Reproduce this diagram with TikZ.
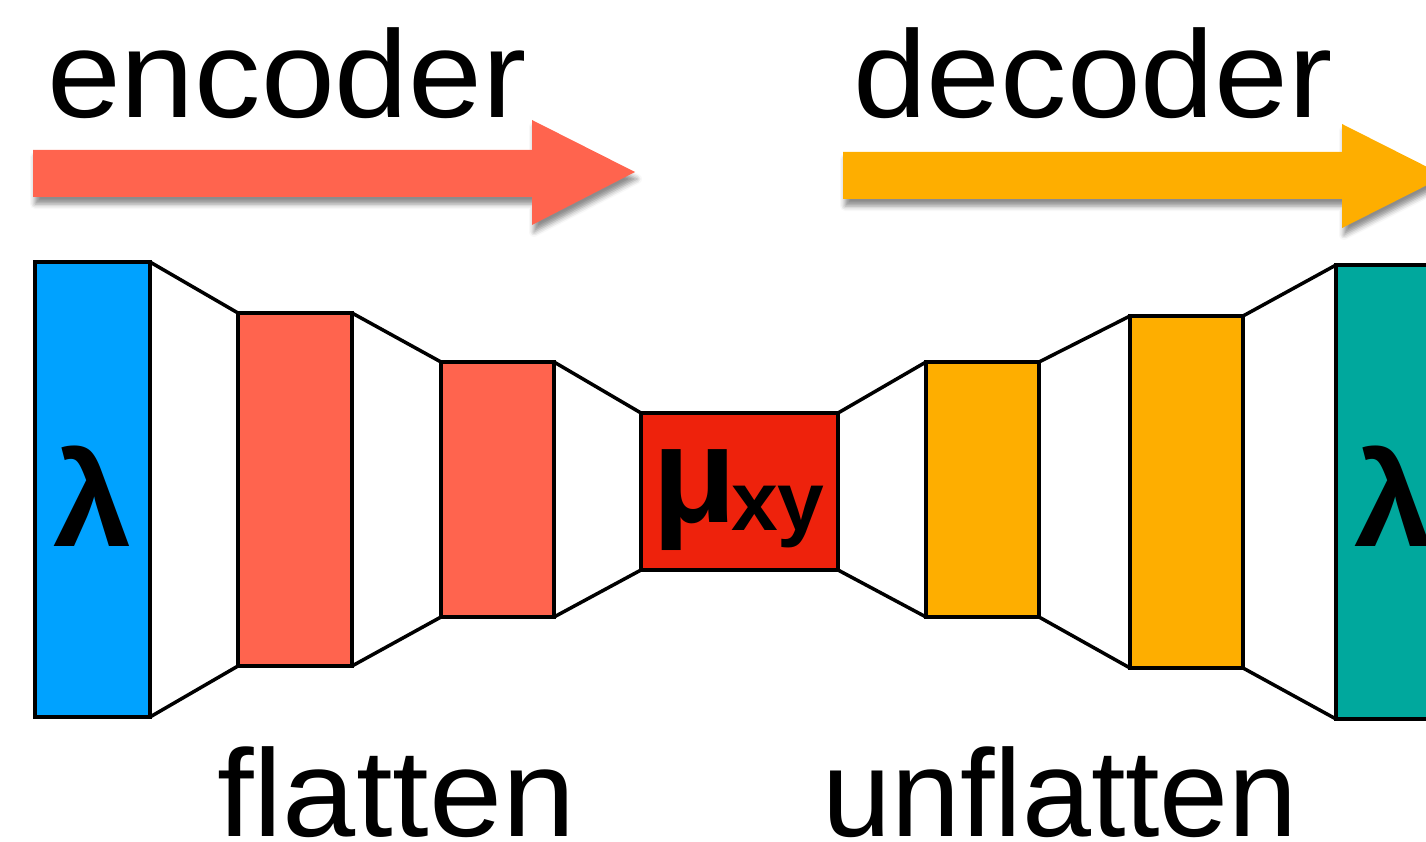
\documentclass[tikz,border=0pt]{standalone}
\usepackage{fontspec}
\setmainfont{Liberation Sans}
\usetikzlibrary{shadows.blur}
\definecolor{kblue}{HTML}{00A2FF}
\definecolor{kred}{HTML}{FF644E}
\definecolor{kdred}{HTML}{EE220C}
\definecolor{korange}{HTML}{FEAE00}
\definecolor{kgreen}{HTML}{00A89D}
\begin{document}
\begin{tikzpicture}[x=1pt,y=-1pt,
  layer/.style={draw=black,line width=4pt,rectangle,inner sep=0pt,outer sep=0pt},
  link/.style={draw=black,line width=3.5pt},
  bigarrow/.style={blur shadow={shadow xshift=2pt,shadow yshift=-7pt,shadow opacity=45,shadow blur radius=5pt}},
  title/.style={inner sep=0pt,anchor=base west,font=\fontsize{124}{124}\selectfont},
  sym/.style={font=\fontsize{134}{134}\selectfont\bfseries}]
\useasboundingbox (0,0) rectangle (1426,842);
% arrows
\fill[kred,bigarrow] (33,150) -- (532,150) -- (532,120) -- (635,172) -- (532,225) -- (532,197) -- (33,197) -- cycle;
\fill[korange,bigarrow] (843,152) -- (1342,152) -- (1342,124) -- (1445,176) -- (1342,228) -- (1342,199) -- (843,199) -- cycle;
% titles
\node[title,xscale=1.07] (enc) at (47,118) {encoder};
\node[title,xscale=1.07] (dec) at (853,118) {decoder};
\node[title,xscale=1.06] (fla) at (217,836) {flatten};
\node[title] (unf) at (822,836) {unflatten};
% boxes
\node[layer,fill=kblue,minimum width=115pt,minimum height=455pt] (b1) at (92.5,489.5) {};
\node[layer,fill=kred,minimum width=114pt,minimum height=353pt] (r1) at (295,489.5) {};
\node[layer,fill=kred,minimum width=113pt,minimum height=255pt] (r2) at (497.5,489.5) {};
\node[layer,fill=kdred,minimum width=197pt,minimum height=157pt] (mu) at (739.5,491.5) {};
\node[layer,fill=korange,minimum width=113pt,minimum height=255pt] (o1) at (982.5,489.5) {};
\node[layer,fill=korange,minimum width=113pt,minimum height=352pt] (o2) at (1186.5,492) {};
\node[layer,fill=kgreen,minimum width=115pt,minimum height=454pt] (g) at (1393.5,492) {};
% links
\foreach \a/\b in {b1/r1,r1/r2,r2/mu,mu/o1,o1/o2,o2/g}{
  \draw[link] (\a.north east) -- (\b.north west);
  \draw[link] (\a.south east) -- (\b.south west);
}
% labels
\node[sym,inner sep=0pt,xscale=1.05] (l1) at ([yshift=-7pt]b1.center) {λ};
\node[sym,inner sep=0pt,xscale=1.05] (l2) at ([yshift=-4pt]g.center) {λ};
\node[inner sep=0pt,anchor=base west] (mul) at (652,522) {\fontsize{138}{138}\selectfont\bfseries μ};
\node[inner sep=0pt,anchor=base west] (xy) at (731,530) {\fontsize{84}{84}\selectfont\bfseries xy};
\end{tikzpicture}
\end{document}
